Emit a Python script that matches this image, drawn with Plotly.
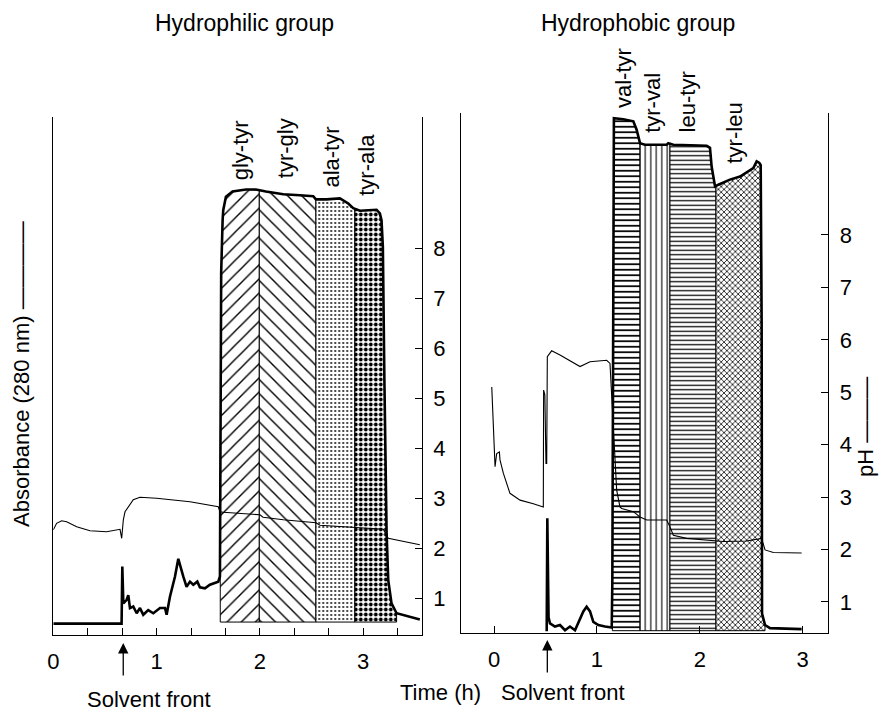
import numpy as np
import plotly.graph_objects as go

FONT = "Liberation Sans, Arial, Helvetica, sans-serif"
W, H = 880, 713

# ---------------- Hydrophilic group ----------------
phil_abs_time = [0.000, 0.661, 0.668, 0.678, 0.710, 0.726, 0.742, 0.774, 0.807, 0.839,
                 0.871, 0.919, 0.968, 1.033, 1.081, 1.097, 1.129, 1.178, 1.210, 1.232,
                 1.258, 1.290, 1.323, 1.355, 1.394, 1.419, 1.468, 1.516, 1.597, 1.613,
                 1.616, 1.625, 1.639, 1.645, 1.671, 1.735, 1.865, 1.961, 2.058, 2.226,
                 2.387, 2.516, 2.542, 2.645, 2.774, 2.855, 2.903, 2.968, 3.129, 3.161,
                 3.177, 3.190, 3.205, 3.226, 3.242, 3.274, 3.323, 3.387, 3.548]
phil_abs = [0.022, 0.022, 0.132, 0.061, 0.068, 0.077, 0.052, 0.055, 0.042, 0.052,
            0.039, 0.048, 0.042, 0.052, 0.052, 0.039, 0.074, 0.113, 0.147, 0.129,
            0.113, 0.093, 0.103, 0.097, 0.103, 0.092, 0.090, 0.097, 0.103, 0.113,
            0.300, 0.700, 0.801, 0.820, 0.846, 0.856, 0.860, 0.860, 0.856, 0.851,
            0.849, 0.847, 0.841, 0.841, 0.843, 0.833, 0.824, 0.819, 0.821, 0.814,
            0.801, 0.750, 0.490, 0.200, 0.106, 0.061, 0.042, 0.039, 0.030]
phil_ph_time = [0.000, 0.032, 0.081, 0.129, 0.226, 0.355, 0.516, 0.646, 0.662, 0.678,
                0.694, 0.726, 0.774, 0.839, 1.000, 1.323, 1.597, 1.613, 1.645, 2.000,
                2.030, 2.226, 2.542, 2.581, 2.919, 3.194, 3.242, 3.355, 3.548]
phil_ph = [2.37, 2.50, 2.55, 2.53, 2.43, 2.35, 2.33, 2.38, 2.20, 2.57,
           2.73, 2.83, 2.97, 3.02, 3.00, 2.93, 2.83, 2.73, 2.72, 2.67,
           2.62, 2.57, 2.51, 2.46, 2.41, 2.38, 2.20, 2.15, 2.07]
phil_peptides = ["gly-tyr", "tyr-gly", "ala-tyr", "tyr-ala"]
phil_bounds = [1.616, 1.994, 2.542, 2.919, 3.323]
phil_base = 0.025
phil_front = 0.677

# ---------------- Hydrophobic group ----------------
phob_abs_time = [0.512, 0.518, 0.530, 0.544, 0.592, 0.641, 0.690, 0.738, 0.787, 0.836,
                 0.868, 0.900, 0.933, 0.965, 1.014, 1.079, 1.144, 1.150, 1.155, 1.160,
                 1.165, 1.257, 1.354, 1.386, 1.419, 1.467, 1.678, 1.694, 1.743, 2.067,
                 2.099, 2.115, 2.148, 2.180, 2.293, 2.391, 2.520, 2.553, 2.579, 2.592,
                 2.601, 2.605, 2.634, 2.682, 2.990]
phob_abs = [0.004, 0.221, 0.030, 0.019, 0.013, 0.016, 0.006, 0.013, 0.006, 0.026,
            0.042, 0.051, 0.042, 0.022, 0.016, 0.013, 0.011, 0.100, 0.600, 0.985,
            0.990, 0.988, 0.984, 0.968, 0.942, 0.939, 0.939, 0.942, 0.939, 0.937,
            0.933, 0.897, 0.859, 0.862, 0.872, 0.878, 0.894, 0.907, 0.904, 0.900,
            0.600, 0.038, 0.016, 0.010, 0.008]
phob_ph_time = [-0.022, 0.010, 0.026, 0.052, 0.058, 0.091, 0.155, 0.253, 0.382, 0.479,
                0.482, 0.494, 0.505, 0.512, 0.518, 0.560, 0.641, 0.836, 0.933, 1.095,
                1.127, 1.144, 1.160, 1.192, 1.224, 1.241, 1.354, 1.419, 1.484, 1.678,
                1.710, 1.743, 1.872, 2.067, 2.229, 2.455, 2.601, 2.634, 2.715, 2.990]
phob_ph = [5.10, 3.58, 3.83, 3.86, 3.71, 3.45, 3.07, 2.94, 2.87, 2.81,
           5.04, 4.95, 3.64, 3.64, 5.68, 5.79, 5.71, 5.49, 5.58, 5.61,
           5.55, 4.91, 4.28, 3.13, 2.81, 2.78, 2.72, 2.62, 2.56, 2.56,
           2.43, 2.27, 2.21, 2.18, 2.15, 2.16, 2.21, 1.99, 1.94, 1.93]
phob_peptides = ["val-tyr", "tyr-val", "leu-tyr", "tyr-leu"]
phob_bounds = [1.150, 1.419, 1.710, 2.157, 2.634]
phob_base = 0.005
phob_front = 0.518

ph_ticks = [1, 2, 3, 4, 5, 6, 7, 8]
time_ticks = [0, 1, 2, 3]
time_tick_labels = ["0", "1", "2", "3"]

# label anchor points (time, absorbance, extra pixel lift) for the peptide names
phil_label_at = [(1.807, 0.874, 0), (2.243, 0.878, 0), (2.698, 0.859, 0), (3.036, 0.844, 0)]
phob_label_at = [(1.254, 1.0, 3), (1.545, 0.958, 0), (1.876, 0.958, 0), (2.342, 0.900, 0)]

# fill textures for each peptide band
patterns = {
    "gly-tyr": dict(shape="/", size=10, solidity=0.14),
    "tyr-gly": dict(shape="\\", size=10, solidity=0.14),
    "ala-tyr": dict(shape=".", size=4, solidity=0.18),
    "tyr-ala": dict(shape=".", size=5, solidity=0.45),
    "val-tyr": dict(shape="-", size=5.5, solidity=0.32),
    "tyr-val": dict(shape="|", size=5.5, solidity=0.2),
    "leu-tyr": dict(shape="-", size=4.5, solidity=0.28),
    "tyr-leu": dict(shape="x", size=4, solidity=0.35),
}


def band_polygon(t, a, lo, hi, base):
    t = np.asarray(t, dtype=float)
    a = np.asarray(a, dtype=float)
    inside = (t > lo) & (t < hi)
    xs = [lo] + list(t[inside]) + [hi]
    ys = [float(np.interp(lo, t, a))] + list(a[inside]) + [float(np.interp(hi, t, a))]
    return xs + [hi, lo, lo], ys + [base, base, ys[0]]


fig = go.Figure()


def add_panel(abs_t, abs_v, ph_t, ph_v, peptides, bounds, base, xa, ya_abs, ya_ph):
    for i, name in enumerate(peptides):
        px, py = band_polygon(abs_t, abs_v, bounds[i], bounds[i + 1], base)
        p = patterns[name]
        fig.add_trace(go.Scatter(
            x=px, y=py, xaxis=xa, yaxis=ya_abs, mode="lines", fill="toself",
            line=dict(color="black", width=1), fillcolor="white",
            fillpattern=dict(shape=p["shape"], size=p["size"], solidity=p["solidity"],
                             fgcolor="black", bgcolor="white", fgopacity=1),
            hoverinfo="skip", showlegend=False))
    fig.add_trace(go.Scatter(x=abs_t, y=abs_v, xaxis=xa, yaxis=ya_abs, mode="lines",
                             line=dict(color="black", width=2.6), showlegend=False))
    fig.add_trace(go.Scatter(x=ph_t, y=ph_v, xaxis=xa, yaxis=ya_ph, mode="lines",
                             line=dict(color="black", width=1.1), showlegend=False))


add_panel(phil_abs_time, phil_abs, phil_ph_time, phil_ph, phil_peptides, phil_bounds,
          phil_base, "x", "y", "y2")
add_panel(phob_abs_time, phob_abs, phob_ph_time, phob_ph, phob_peptides, phob_bounds,
          phob_base, "x2", "y3", "y4")

tickfont = dict(family=FONT, size=22, color="black")
base_axis = dict(showgrid=False, zeroline=False, showline=True, linecolor="black",
                 linewidth=1.3, tickcolor="black", tickwidth=1.3, tickfont=tickfont,
                 automargin=False, fixedrange=True)

# panel boxes in pixels: left, right, top, bottom
L_BOX = (53.3, 421.7, 117, 635)
R_BOX = (461.0, 828.3, 113, 633.3)


def xdom(b):
    return [b[0] / W, b[1] / W]


def ydom(b):
    return [(H - b[3]) / H, (H - b[2]) / H]


fig.update_layout(
    width=W, height=H, margin=dict(l=0, r=0, t=0, b=0),
    paper_bgcolor="white", plot_bgcolor="white", showlegend=False,
    font=dict(family=FONT, size=22, color="black"),
    xaxis=dict(base_axis, domain=xdom(L_BOX), anchor="y", range=[0, 3.566],
               tickmode="array", tickvals=time_ticks, ticktext=time_tick_labels,
               ticks="inside", ticklen=7, ticklabelstandoff=6,
               minor=dict(dtick=1 / 3, tick0=0, ticks="inside", ticklen=7,
                          tickcolor="black", tickwidth=1.3)),
    yaxis=dict(base_axis, domain=ydom(L_BOX), anchor="x", range=[0, 1],
               showticklabels=False, ticks=""),
    yaxis2=dict(base_axis, overlaying="y", anchor="x", side="right",
                range=[0.266, 10.626], tickmode="array", tickvals=ph_ticks,
                ticks="inside", ticklen=7, ticklabelstandoff=6),
    xaxis2=dict(base_axis, domain=xdom(R_BOX), anchor="y3", range=[-0.321, 3.249],
                tickmode="array", tickvals=time_ticks, ticktext=time_tick_labels,
                ticks="inside", ticklen=7, ticklabelstandoff=6),
    yaxis3=dict(base_axis, domain=ydom(R_BOX), anchor="x2", range=[0, 1],
                showticklabels=False, ticks=""),
    yaxis4=dict(base_axis, overlaying="y3", anchor="x2", side="right",
                range=[0.399, 10.328], tickmode="array", tickvals=ph_ticks,
                ticks="inside", ticklen=7, ticklabelstandoff=6),
)

ann = []


def paper_y(py):
    return (H - py) / H


txt = dict(family=FONT, size=22, color="black")


def label(x, y, text, **kw):
    d = dict(x=x, y=y, xref="paper", yref="paper", text=text, showarrow=False,
             xanchor="center", yanchor="middle", font=txt)
    d.update(kw)
    ann.append(d)


# peptide names above the bands
for name, (lx, ly, lift) in zip(phil_peptides, phil_label_at):
    label(lx, ly, name, xref="x", yref="y", textangle=-90, yanchor="bottom", yshift=lift)
for name, (lx, ly, lift) in zip(phob_peptides, phob_label_at):
    label(lx, ly, name, xref="x2", yref="y3", textangle=-90, yanchor="bottom", yshift=lift)

# panel titles
label(245 / W, paper_y(23), "Hydrophilic group", font=dict(txt, size=23))
label(638 / W, paper_y(23), "Hydrophobic group", font=dict(txt, size=23))

# axis titles
label(22 / W, paper_y(374), "Absorbance (280 nm) \u2014\u2014\u2014\u2014", textangle=-90)
label(865 / W, paper_y(427), "pH \u2014\u2014\u2014", textangle=-90)
label(441 / W, paper_y(692), "Time (h)")

# solvent front markers
ann.append(dict(x=phil_front, xref="x", y=paper_y(643), yref="paper", text="",
                showarrow=True, ax=0, ay=34, arrowhead=2, arrowsize=1.6,
                arrowwidth=1.3, arrowcolor="black", standoff=0))
label(149 / W, paper_y(699), "Solvent front")
ann.append(dict(x=phob_front, xref="x2", y=paper_y(640), yref="paper", text="",
                showarrow=True, ax=0, ay=34, arrowhead=2, arrowsize=1.6,
                arrowwidth=1.3, arrowcolor="black", standoff=0))
label(563 / W, paper_y(692), "Solvent front")

fig.update_layout(annotations=ann)
fig.write_html("out.html")
